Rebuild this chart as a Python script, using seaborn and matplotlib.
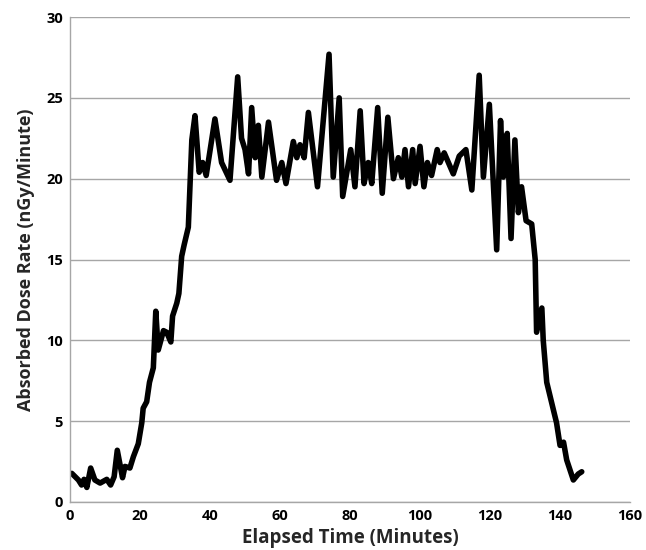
import numpy as np
import pandas as pd
import seaborn as sns
import matplotlib.pyplot as plt

# values (minutes, nGy/minute)
minutes = [0.5, 2.4, 3.3, 4.0, 4.8, 5.9, 7.1, 8.6, 10.5, 11.6, 12.6, 13.5, 15.0, 15.7,
           17.1, 18.1, 19.5, 20.5, 20.9, 21.9, 22.7, 23.8, 24.5, 25.2, 26.7, 27.6, 28.8,
           29.3, 30.5, 31.1, 31.9, 32.6, 33.8, 34.8, 35.7, 36.9, 37.9, 38.9, 41.4, 43.3,
           45.7, 47.9, 49.0, 50.0, 51.0, 51.9, 52.9, 53.8, 54.8, 56.7, 59.0, 60.5, 61.7,
           63.8, 64.8, 65.7, 66.9, 68.1, 70.7, 74.0, 75.2, 76.9, 77.9, 80.2, 81.4, 82.9,
           84.0, 85.2, 86.2, 87.9, 89.2, 90.8, 92.4, 93.8, 94.8, 95.7, 96.7, 97.9, 98.6,
           100.0, 101.1, 102.1, 103.3, 104.9, 105.7, 106.9, 109.5, 111.2, 113.1, 114.8,
           116.9, 118.1, 119.8, 121.9, 123.0, 123.8, 124.9, 126.0, 127.1, 128.1, 129.0,
           130.3, 131.9, 132.9, 133.3, 134.8, 135.2, 136.2, 138.1, 139.0, 140.0, 141.0,
           141.9, 143.8, 145.2, 146.2]
dose_rate = [1.77, 1.36, 1.05, 1.4, 0.9, 2.1, 1.36, 1.17, 1.4, 1.05, 1.56, 3.2, 1.5, 2.2,
             2.1, 2.8, 3.6, 4.9, 5.8, 6.2, 7.4, 8.3, 11.8, 9.4, 10.6, 10.5, 9.9,
             11.5, 12.3, 12.9, 15.2, 15.9, 17.0, 22.4, 23.9, 20.4, 21.0, 20.2, 23.7, 21.0,
             19.9, 26.3, 22.5, 21.8, 20.3, 24.4, 21.3, 23.3, 20.1, 23.5, 19.9, 21.0, 19.7,
             22.3, 21.3, 22.1, 21.3, 24.1, 19.5, 27.7, 20.1, 25.0, 18.9, 21.8, 19.5, 24.2,
             19.7, 21.0, 19.7, 24.4, 19.1, 23.8, 20.0, 21.3, 20.1, 21.8, 19.5, 21.8, 19.7,
             22.0, 19.5, 21.0, 20.2, 21.8, 21.0, 21.6, 20.3, 21.4, 21.8, 19.3,
             26.4, 20.1, 24.6, 15.6, 23.6, 20.1, 22.8, 16.3, 22.4, 17.9, 19.5,
             17.4, 17.2, 15.0, 10.5, 12.0, 10.0, 7.4, 5.7, 4.9, 3.5, 3.7,
             2.6, 1.36, 1.73, 1.87]

df = pd.DataFrame({"Elapsed Time (Minutes)": minutes,
                   "Absorbed Dose Rate (nGy/Minute)": dose_rate})

sns.set_style("white")
plt.rcParams['font.family'] = ['Open Sans', 'DejaVu Sans']

fig = plt.figure(figsize=(6.46, 5.5), dpi=100)
ax = fig.add_axes([0.1084, 0.0873, 0.8669, 0.8817])

ax.yaxis.grid(True, color="#a6a6a6", linewidth=1.0)
ax.set_axisbelow(True)

sns.lineplot(data=df, x="Elapsed Time (Minutes)", y="Absorbed Dose Rate (nGy/Minute)",
             color="black", linewidth=4.0, ax=ax, sort=False,
             solid_joinstyle="round", solid_capstyle="round")

ax.set_xlim(0, 160)
ax.set_ylim(0, 30)
ax.set_xticks(range(0, 161, 20))
ax.set_yticks(range(0, 31, 5))
ax.tick_params(axis="both", length=0, labelsize=10.5, colors="black", pad=5)
for lab in ax.get_xticklabels() + ax.get_yticklabels():
    lab.set_fontweight("bold")

for side in ["top", "right"]:
    ax.spines[side].set_visible(False)
for side in ["left", "bottom"]:
    ax.spines[side].set_color("#a6a6a6")
    ax.spines[side].set_linewidth(1.0)

ax.set_xlabel("Elapsed Time (Minutes)", fontsize=13.5, fontweight="bold", labelpad=4)
ax.set_ylabel("Absorbed Dose Rate (nGy/Minute)", fontsize=13, fontweight="bold", labelpad=8)

fig.savefig("out.png", dpi=100)
